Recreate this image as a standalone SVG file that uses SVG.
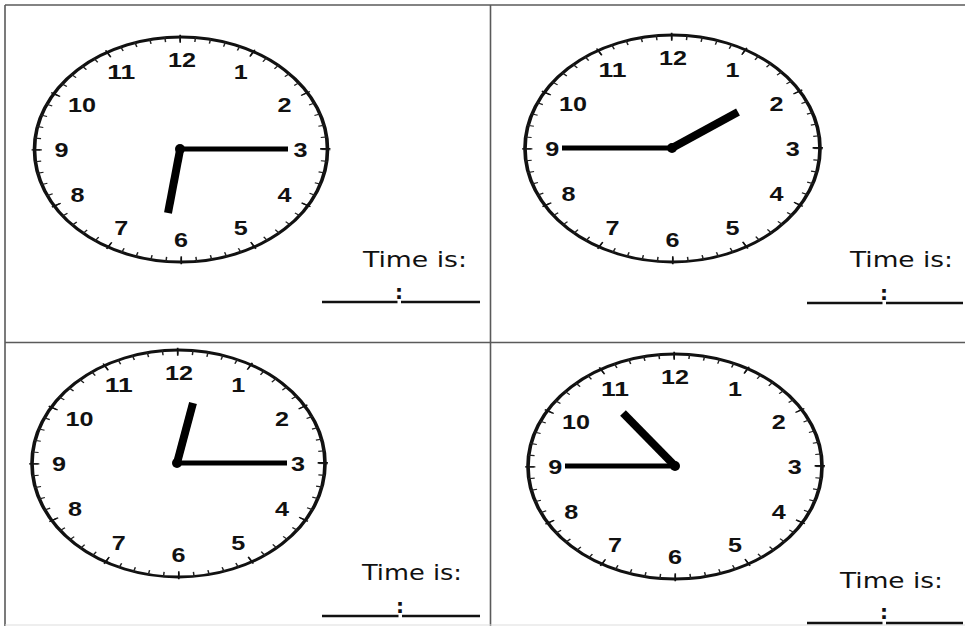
<svg xmlns="http://www.w3.org/2000/svg" xmlns:xlink="http://www.w3.org/1999/xlink" width="965" height="626" viewBox="0 0 965 626">
<style>
.grid{stroke:#5a5a5a;stroke-width:1.6;fill:none}
.num{font-family:"Liberation Sans",Arial,sans-serif;font-weight:bold;font-size:21px;fill:#111;text-anchor:middle}
.lbl{font-family:"DejaVu Sans","Liberation Sans",sans-serif;font-size:21px;fill:#111}
.col{font-family:"DejaVu Sans","Liberation Sans",sans-serif;font-size:20px;fill:#111;text-anchor:middle;font-weight:bold}
.uline{stroke:#111;stroke-width:2.6}
.mh{stroke:#000;stroke-width:5}
.hh{stroke:#000;stroke-width:8}
</style>
<defs>
<g id="face">
<circle r="100" fill="#fff" stroke="#111" stroke-width="2.5"/>
<circle r="98.3" fill="none" stroke="#222" stroke-width="4.6" pathLength="60" stroke-dasharray="0.1 0.9" stroke-dashoffset="0.05"/>
<circle r="98.5" fill="none" stroke="#111" stroke-width="7" pathLength="12" stroke-dasharray="0.022 0.978" stroke-dashoffset="0.011"/>
</g>
</defs>
<g id="grid">
<line class="grid" x1="5" y1="5" x2="965" y2="5"/>
<line class="grid" x1="5" y1="5" x2="5" y2="626"/>
<line class="grid" x1="490.5" y1="5" x2="490.5" y2="626"/>
<line class="grid" x1="5" y1="342.5" x2="965" y2="342.5"/>
<line x1="5" y1="625" x2="965" y2="625" stroke="#ddd" stroke-width="1"/>
</g>
<g id="clock1">
<use xlink:href="#face" href="#face" transform="translate(181,149.5) scale(1.465,1.125)"/>
<text class="num" x="182" y="67" textLength="28" lengthAdjust="spacingAndGlyphs">12</text>
<text class="num" x="240.7" y="79" textLength="14" lengthAdjust="spacingAndGlyphs">1</text>
<text class="num" x="284.4" y="112" textLength="14" lengthAdjust="spacingAndGlyphs">2</text>
<text class="num" x="300.4" y="157" textLength="14" lengthAdjust="spacingAndGlyphs">3</text>
<text class="num" x="284.4" y="202" textLength="14" lengthAdjust="spacingAndGlyphs">4</text>
<text class="num" x="240.7" y="235" textLength="14" lengthAdjust="spacingAndGlyphs">5</text>
<text class="num" x="181" y="247" textLength="14" lengthAdjust="spacingAndGlyphs">6</text>
<text class="num" x="121.3" y="235" textLength="14" lengthAdjust="spacingAndGlyphs">7</text>
<text class="num" x="77.6" y="202" textLength="14" lengthAdjust="spacingAndGlyphs">8</text>
<text class="num" x="61.6" y="157" textLength="14" lengthAdjust="spacingAndGlyphs">9</text>
<text class="num" x="82" y="112" textLength="28" lengthAdjust="spacingAndGlyphs">10</text>
<text class="num" x="121.3" y="79" textLength="28" lengthAdjust="spacingAndGlyphs">11</text>
<line class="mh" x1="181" y1="149" x2="288" y2="149"/>
<line class="hh" x1="180" y1="150" x2="168" y2="213"/>
<circle cx="180" cy="149" r="5"/>
</g>
<g id="clock2">
<use xlink:href="#face" href="#face" transform="translate(672.5,148.5) scale(1.475,1.135)"/>
<text class="num" x="673" y="65.2" textLength="28" lengthAdjust="spacingAndGlyphs">12</text>
<text class="num" x="732.6" y="77.4" textLength="14" lengthAdjust="spacingAndGlyphs">1</text>
<text class="num" x="776.6" y="110.6" textLength="14" lengthAdjust="spacingAndGlyphs">2</text>
<text class="num" x="792.7" y="156" textLength="14" lengthAdjust="spacingAndGlyphs">3</text>
<text class="num" x="776.6" y="201.4" textLength="14" lengthAdjust="spacingAndGlyphs">4</text>
<text class="num" x="732.6" y="234.6" textLength="14" lengthAdjust="spacingAndGlyphs">5</text>
<text class="num" x="672.5" y="246.8" textLength="14" lengthAdjust="spacingAndGlyphs">6</text>
<text class="num" x="612.4" y="234.6" textLength="14" lengthAdjust="spacingAndGlyphs">7</text>
<text class="num" x="568.4" y="201.4" textLength="14" lengthAdjust="spacingAndGlyphs">8</text>
<text class="num" x="552.3" y="156" textLength="14" lengthAdjust="spacingAndGlyphs">9</text>
<text class="num" x="573" y="110.6" textLength="28" lengthAdjust="spacingAndGlyphs">10</text>
<text class="num" x="612.4" y="77.4" textLength="28" lengthAdjust="spacingAndGlyphs">11</text>
<line class="mh" x1="672" y1="148" x2="562" y2="148"/>
<line class="hh" x1="672" y1="148" x2="738" y2="112"/>
<circle cx="672" cy="148" r="5"/>
</g>
<g id="clock3">
<use xlink:href="#face" href="#face" transform="translate(178.5,463.5) scale(1.465,1.135)"/>
<text class="num" x="179" y="380.2" textLength="28" lengthAdjust="spacingAndGlyphs">12</text>
<text class="num" x="238.2" y="392.4" textLength="14" lengthAdjust="spacingAndGlyphs">1</text>
<text class="num" x="281.9" y="425.6" textLength="14" lengthAdjust="spacingAndGlyphs">2</text>
<text class="num" x="297.9" y="471" textLength="14" lengthAdjust="spacingAndGlyphs">3</text>
<text class="num" x="281.9" y="516.4" textLength="14" lengthAdjust="spacingAndGlyphs">4</text>
<text class="num" x="238.2" y="549.6" textLength="14" lengthAdjust="spacingAndGlyphs">5</text>
<text class="num" x="178.5" y="561.8" textLength="14" lengthAdjust="spacingAndGlyphs">6</text>
<text class="num" x="118.8" y="549.6" textLength="14" lengthAdjust="spacingAndGlyphs">7</text>
<text class="num" x="75.1" y="516.4" textLength="14" lengthAdjust="spacingAndGlyphs">8</text>
<text class="num" x="59.1" y="471" textLength="14" lengthAdjust="spacingAndGlyphs">9</text>
<text class="num" x="79.5" y="425.6" textLength="28" lengthAdjust="spacingAndGlyphs">10</text>
<text class="num" x="118.8" y="392.4" textLength="28" lengthAdjust="spacingAndGlyphs">11</text>
<line class="mh" x1="177" y1="463" x2="287" y2="463"/>
<line class="hh" x1="177" y1="463" x2="193" y2="403"/>
<circle cx="177" cy="463" r="5"/>
</g>
<g id="clock4">
<use xlink:href="#face" href="#face" transform="translate(675,466.5) scale(1.47,1.125)"/>
<text class="num" x="675" y="384" textLength="28" lengthAdjust="spacingAndGlyphs">12</text>
<text class="num" x="734.9" y="396.1" textLength="14" lengthAdjust="spacingAndGlyphs">1</text>
<text class="num" x="778.7" y="429" textLength="14" lengthAdjust="spacingAndGlyphs">2</text>
<text class="num" x="794.8" y="474" textLength="14" lengthAdjust="spacingAndGlyphs">3</text>
<text class="num" x="778.7" y="519" textLength="14" lengthAdjust="spacingAndGlyphs">4</text>
<text class="num" x="734.9" y="551.9" textLength="14" lengthAdjust="spacingAndGlyphs">5</text>
<text class="num" x="675" y="564" textLength="14" lengthAdjust="spacingAndGlyphs">6</text>
<text class="num" x="615.1" y="551.9" textLength="14" lengthAdjust="spacingAndGlyphs">7</text>
<text class="num" x="571.3" y="519" textLength="14" lengthAdjust="spacingAndGlyphs">8</text>
<text class="num" x="555.2" y="474" textLength="14" lengthAdjust="spacingAndGlyphs">9</text>
<text class="num" x="576" y="429" textLength="28" lengthAdjust="spacingAndGlyphs">10</text>
<text class="num" x="615.1" y="396.1" textLength="28" lengthAdjust="spacingAndGlyphs">11</text>
<line class="mh" x1="675" y1="466" x2="565" y2="466"/>
<line class="hh" x1="675" y1="466" x2="623" y2="413"/>
<circle cx="675" cy="466" r="5"/>
</g>
<g id="answer1">
<text class="lbl" x="363" y="267" textLength="104" lengthAdjust="spacingAndGlyphs">Time is:</text>
<line class="uline" x1="322" y1="302" x2="397.5" y2="302"/>
<line class="uline" x1="401" y1="302" x2="480" y2="302"/>
<text class="col" x="399" y="299">:</text>
</g>
<g id="answer2">
<text class="lbl" x="850" y="267" textLength="103" lengthAdjust="spacingAndGlyphs">Time is:</text>
<line class="uline" x1="807" y1="303" x2="882.5" y2="303"/>
<line class="uline" x1="886" y1="303" x2="963" y2="303"/>
<text class="col" x="884" y="300">:</text>
</g>
<g id="answer3">
<text class="lbl" x="362" y="580" textLength="100" lengthAdjust="spacingAndGlyphs">Time is:</text>
<line class="uline" x1="322" y1="616" x2="398.5" y2="616"/>
<line class="uline" x1="402" y1="616" x2="480" y2="616"/>
<text class="col" x="400" y="613">:</text>
</g>
<g id="answer4">
<text class="lbl" x="840" y="588" textLength="103" lengthAdjust="spacingAndGlyphs">Time is:</text>
<line class="uline" x1="807" y1="623" x2="882.5" y2="623"/>
<line class="uline" x1="886" y1="623" x2="963" y2="623"/>
<text class="col" x="884" y="619">:</text>
</g>
</svg>
